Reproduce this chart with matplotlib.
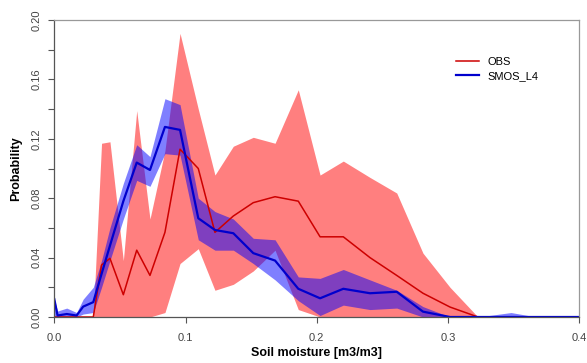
'''
Soil moisture probability distributions: in situ observations vs SMOS L4, with spread bands
'''

import matplotlib
matplotlib.use("Agg")
import matplotlib.pyplot as plt, numpy as np
from matplotlib.ticker import FixedLocator

# bin centres [m3/m3]
soil_moisture = [0, 0.0025, 0.0095, 0.017, 0.022, 0.0297, 0.036, 0.0424, 0.0526, 0.0628,
                 0.0729, 0.0843, 0.0958, 0.1097, 0.1224, 0.1364, 0.1516, 0.1682, 0.1859, 0.2025,
                 0.2202, 0.2405, 0.2609, 0.2809, 0.3015, 0.3228, 0.348, 0.3675, 0.4]

obs_mean = [0, 0, 0, 0, 0, 0, 0.035, 0.0395, 0.015, 0.045,
            0.028, 0.057, 0.113, 0.100, 0.057, 0.068, 0.077, 0.081, 0.078, 0.054,
            0.054, 0.040, 0.028, 0.016, 0.0067, 0, 0, 0, 0]
obs_upper = [0, 0, 0, 0, 0, 0, 0.117, 0.118, 0.038, 0.139,
             0.066, 0.112, 0.191, 0.140, 0.0956, 0.115, 0.121, 0.117, 0.153, 0.0956,
             0.105, 0.094, 0.0835, 0.043, 0.020, 0, 0, 0, 0]
obs_lower = [0, 0, 0, 0, 0, 0, 0, 0, 0, 0,
             0, 0.003, 0.036, 0.046, 0.018, 0.022, 0.031, 0.045, 0.005, 0,
             0, 0, 0, 0, 0, 0, 0, 0, 0]

smos_mean = [0.012, 0.001, 0.002, 0.001, 0.007, 0.010, 0.029, 0.048, 0.078, 0.104,
             0.099, 0.128, 0.126, 0.0665, 0.0586, 0.0564, 0.043, 0.038, 0.019, 0.0126,
             0.019, 0.016, 0.017, 0.0036, 0, 0, 0, 0, 0]
smos_upper = [0.012, 0.004, 0.006, 0.003, 0.012, 0.020, 0.038, 0.060, 0.090, 0.116,
              0.108, 0.147, 0.143, 0.080, 0.071, 0.066, 0.053, 0.052, 0.027, 0.026,
              0.032, 0.025, 0.018, 0.007, 0, 0, 0.003, 0, 0]
smos_lower = [0, 0, 0, 0, 0.002, 0.003, 0.020, 0.038, 0.066, 0.092,
              0.088, 0.110, 0.109, 0.052, 0.045, 0.045, 0.036, 0.025, 0.011, 0.001,
              0.008, 0.005, 0.006, 0, 0, 0, 0, 0, 0]

x_ticks = [0.0, 0.1, 0.2, 0.3, 0.4]
x_tick_labels = ["0.0", "0.1", "0.2", "0.3", "0.4"]
y_ticks = [0.00, 0.02, 0.04, 0.06, 0.08, 0.10, 0.12, 0.14, 0.16, 0.18, 0.20]
y_tick_labels = ["0.00", "", "0.04", "", "0.08", "", "0.12", "", "0.16", "", "0.20"]

plt.rcParams["font.family"] = ["Liberation Sans", "DejaVu Sans"]

W, H = 587, 363
fig = plt.figure(figsize=(W / 100, H / 100), dpi=100)
ax = fig.add_axes([54.3 / W, 1 - 317 / H, 525 / W, 297 / H])

x = np.array(soil_moisture)
ax.fill_between(x, obs_lower, obs_upper, color=(1, 0, 0, 0.5), lw=0)
ax.fill_between(x, smos_lower, smos_upper, color=(0, 0, 1, 0.5), lw=0)
ax.plot(x, obs_mean, color="#cd0000", lw=1.1, label="OBS")
ax.plot(x, smos_mean, color="#0000cd", lw=1.6, label="SMOS_L4")

ax.set_xlim(0, 0.4)
ax.set_ylim(0, 0.20)
ax.xaxis.set_major_locator(FixedLocator(x_ticks))
ax.set_xticklabels(x_tick_labels)
ax.yaxis.set_major_locator(FixedLocator(y_ticks))
ax.set_yticklabels(y_tick_labels, rotation=90, va="center")
ax.tick_params(axis="both", length=4.3, width=0.8, color="#555555",
               labelsize=8, labelcolor="#444444")
ax.tick_params(axis="x", pad=7)
ax.tick_params(axis="y", pad=4.5)

for side in ("left", "bottom"):
    ax.spines[side].set_color("#555555")
    ax.spines[side].set_linewidth(0.9)
for side in ("top", "right"):
    ax.spines[side].set_color("#999999")
    ax.spines[side].set_linewidth(0.9)

ax.set_xlabel("Soil moisture [m3/m3]", fontsize=9, fontweight="bold", labelpad=3)
ax.set_ylabel("Probability", fontsize=9, fontweight="bold", labelpad=7.5)

ax.legend(loc="upper left", bbox_to_anchor=(456 / W, 1 - 57 / H), bbox_transform=fig.transFigure,
          frameon=False, fontsize=8, handlelength=2.1, handletextpad=0.7,
          labelspacing=0.35, borderpad=0, borderaxespad=0)

fig.savefig("out.png", dpi=100)
